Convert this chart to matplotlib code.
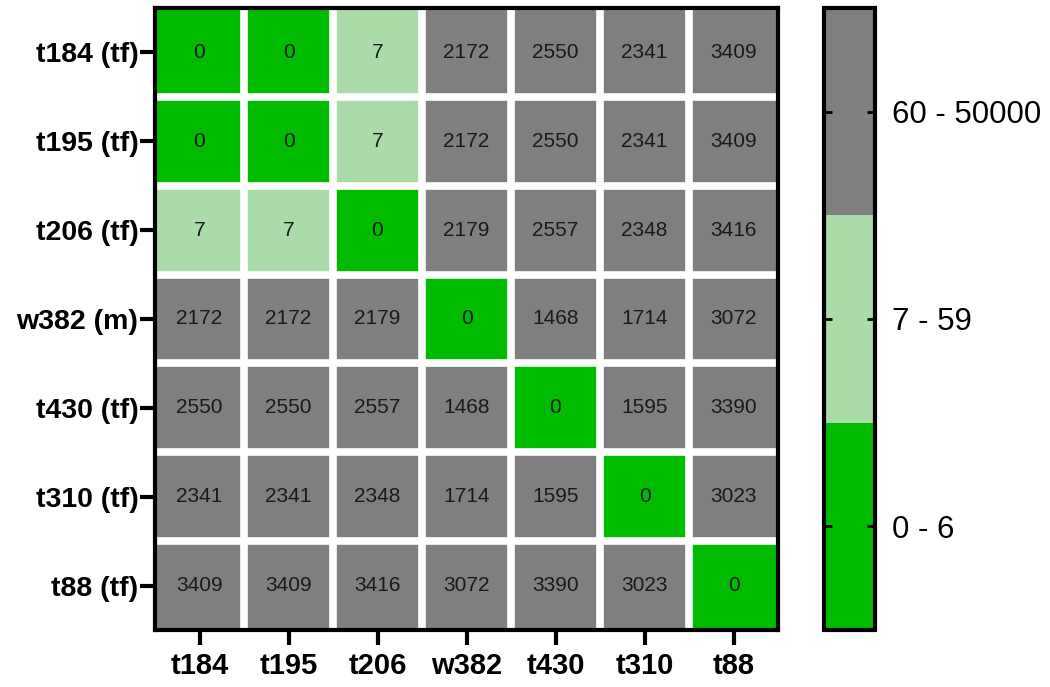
import numpy as np
import matplotlib
matplotlib.use("Agg")
import matplotlib.pyplot as plt
from matplotlib.colors import ListedColormap, BoundaryNorm

plt.rcParams['font.family'] = ['Liberation Sans', 'DejaVu Sans']

# distance matrix
row_labels = ['t184 (tf)', 't195 (tf)', 't206 (tf)', 'w382 (m)', 't430 (tf)', 't310 (tf)', 't88 (tf)']
col_labels = ['t184', 't195', 't206', 'w382', 't430', 't310', 't88']
dist = np.array([
    [0, 0, 7, 2172, 2550, 2341, 3409],
    [0, 0, 7, 2172, 2550, 2341, 3409],
    [7, 7, 0, 2179, 2557, 2348, 3416],
    [2172, 2172, 2179, 0, 1468, 1714, 3072],
    [2550, 2550, 2557, 1468, 0, 1595, 3390],
    [2341, 2341, 2348, 1714, 1595, 0, 3023],
    [3409, 3409, 3416, 3072, 3390, 3023, 0],
])
bin_edges = [7, 60]
bin_labels = ['0 - 6', '7 - 59', '60 - 50000']
bin_colors = ['#00bb00', '#aadcaa', '#7f7f7f']

cat = np.digitize(dist, bin_edges)
cmap = ListedColormap(bin_colors)
norm = BoundaryNorm([-0.5, 0.5, 1.5, 2.5], cmap.N)

fig = plt.figure(figsize=(10.5, 6.87), dpi=100)
ax = fig.add_axes([155/1050, 57/687, 623/1050, 622/687])
cax = fig.add_axes([824/1050, 57/687, 51/1050, 622/687])

n = len(row_labels)
mesh = ax.pcolormesh(np.arange(n + 1) - 0.5, np.arange(n + 1) - 0.5, cat, cmap=cmap, norm=norm)
ax.set_xlim(-0.5, n - 0.5)
ax.set_ylim(n - 0.5, -0.5)

# white gaps between cells
for k in range(1, n):
    ax.axvline(k - 0.5, color='white', lw=5.5)
    ax.axhline(k - 0.5, color='white', lw=5.5)

for i in range(n):
    for j in range(n):
        ax.text(j, i, str(dist[i, j]), ha='center', va='center', fontsize=15, color='#1a1a1a')

ax.set_xticks(range(n))
ax.set_xticklabels(col_labels, fontsize=21, fontweight='bold')
ax.set_yticks(range(n))
ax.set_yticklabels(row_labels, fontsize=20.5, fontweight='bold')
ax.tick_params(length=10.5, width=3, pad=1.5)
ax.tick_params(axis='x', pad=5)
for s in ax.spines.values():
    s.set_linewidth(3)

cb = fig.colorbar(mesh, cax=cax, ticks=[0, 1, 2])
cb.ax.minorticks_off()
cb.ax.set_yticklabels(bin_labels, fontsize=22.5)
cb.outline.set_linewidth(3)
cb.ax.tick_params(direction='in', left=True, right=True, length=6, width=2, pad=12)

fig.savefig('out.png', dpi=100)
